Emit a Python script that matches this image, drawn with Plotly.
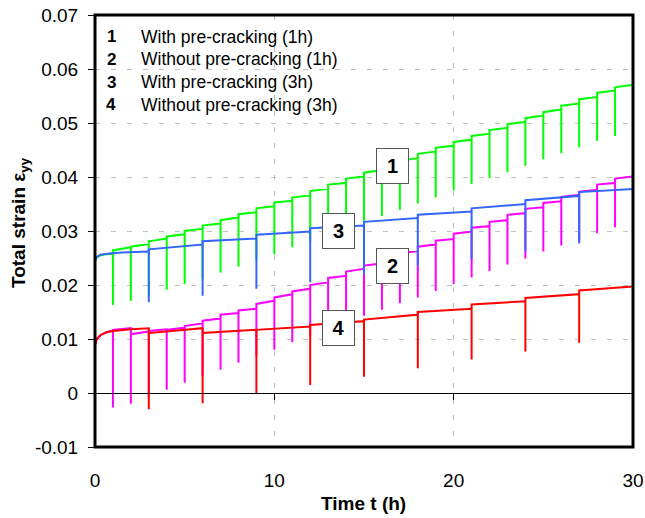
import plotly.graph_objects as go

# ---------------- data ----------------
# Series 1: With pre-cracking (1h)  -- green
S1_T0 = [0, 0, 0.1, 0.3, 0.6, 1]
S1_V0 = [0, 0.0245, 0.0251, 0.0255, 0.0257, 0.0258]
S1_CYC = list(range(1, 30))
S1_MIN = [0.0163, 0.0171, 0.0180, 0.0191, 0.0202, 0.0212, 0.0223, 0.0234, 0.0247, 0.0257,
          0.0270, 0.0282, 0.0294, 0.0306, 0.0319, 0.0328, 0.0339, 0.0351, 0.0362, 0.0375,
          0.0387, 0.0398, 0.0409, 0.0421, 0.0433, 0.0444, 0.0455, 0.0467, 0.0476]
S1_START = [0.0264, 0.0271, 0.0281, 0.0290, 0.0300, 0.0310, 0.0320, 0.0331, 0.0342, 0.0353,
            0.0362, 0.0374, 0.0386, 0.0397, 0.0408, 0.0419, 0.0430, 0.0443, 0.0454, 0.0465,
            0.0476, 0.0487, 0.0498, 0.0509, 0.0520, 0.0532, 0.0544, 0.0556, 0.0566]
S1_END = [0.0270, 0.0276, 0.0286, 0.0294, 0.0304, 0.0314, 0.0325, 0.0335, 0.0346, 0.0356,
          0.0366, 0.0378, 0.0389, 0.0401, 0.0413, 0.0424, 0.0435, 0.0447, 0.0458, 0.0469,
          0.0480, 0.0491, 0.0502, 0.0514, 0.0525, 0.0536, 0.0548, 0.0560, 0.0571]

# Series 2: Without pre-cracking (1h) -- magenta
S2_T0 = [0, 0, 0.1, 0.3, 0.6, 1]
S2_V0 = [0, 0.0089, 0.0100, 0.0107, 0.0112, 0.0116]
S2_CYC = list(range(1, 30))
S2_MIN = [-0.0027, -0.0020, -0.0008, 0.0006, 0.0019, 0.0031, 0.0043, 0.0056, 0.0068, 0.0080,
          0.0094, 0.0106, 0.0118, 0.0130, 0.0143, 0.0154, 0.0166, 0.0177, 0.0189, 0.0202,
          0.0214, 0.0226, 0.0238, 0.0249, 0.0262, 0.0273, 0.0282, 0.0296, 0.0307]
S2_START = [0.0117, 0.0109, 0.0115, 0.0117, 0.0124, 0.0134, 0.0145, 0.0153, 0.0165, 0.0177,
            0.0188, 0.0200, 0.0213, 0.0225, 0.0236, 0.0248, 0.0259, 0.0271, 0.0282, 0.0295,
            0.0306, 0.0317, 0.0330, 0.0341, 0.0352, 0.0363, 0.0373, 0.0386, 0.0397]
S2_END = [0.0120, 0.0114, 0.0118, 0.0121, 0.0129, 0.0138, 0.0148, 0.0156, 0.0171, 0.0183,
          0.0193, 0.0205, 0.0217, 0.0230, 0.0240, 0.0251, 0.0263, 0.0275, 0.0285, 0.0299,
          0.0309, 0.0320, 0.0333, 0.0344, 0.0355, 0.0367, 0.0376, 0.0389, 0.0401]

# Series 3: With pre-cracking (3h) -- blue
S3_T0 = [0, 0, 0.1, 0.3, 0.7, 1.5, 3]
S3_V0 = [0, 0.0245, 0.0252, 0.0256, 0.0258, 0.0260, 0.0262]
S3_CYC = [3, 6, 9, 12, 15, 18, 21, 24, 27]
S3_MIN = [0.0168, 0.0180, 0.0193, 0.0205, 0.0220, 0.0236, 0.0248, 0.0263, 0.0277]
S3_START = [0.0266, 0.0281, 0.0293, 0.0305, 0.0317, 0.0330, 0.0342, 0.0357, 0.0372]
S3_END = [0.0275, 0.0286, 0.0299, 0.0310, 0.0324, 0.0336, 0.0350, 0.0365, 0.0378]

# Series 4: Without pre-cracking (3h) -- red
S4_T0 = [0, 0, 0.1, 0.3, 0.6, 1, 2, 3]
S4_V0 = [0, 0.0089, 0.0100, 0.0107, 0.0112, 0.0115, 0.0118, 0.0120]
S4_CYC = [3, 6, 9, 12, 15, 18, 21, 24, 27]
S4_MIN = [-0.0030, -0.0019, -0.0002, 0.0015, 0.0030, 0.0046, 0.0062, 0.0077, 0.0093]
S4_START = [0.0111, 0.0111, 0.0117, 0.0126, 0.0136, 0.0150, 0.0164, 0.0176, 0.0190]
S4_END = [0.0120, 0.0117, 0.0123, 0.0133, 0.0145, 0.0156, 0.0170, 0.0183, 0.0197]

T_END = 30

LEGEND_NUMS = ["1", "2", "3", "4"]
LEGEND_TEXT = ["With pre-cracking (1h)", "Without pre-cracking (1h)",
               "With pre-cracking (3h)", "Without pre-cracking (3h)"]

# curve label boxes (time, strain)
LABEL_TXT = ["1", "3", "2", "4"]
LABEL_T = [16.6, 13.55, 16.6, 13.55]
LABEL_V = [0.0421, 0.0300, 0.0235, 0.0120]

Y_TICKS = [-0.01, 0, 0.01, 0.02, 0.03, 0.04, 0.05, 0.06, 0.07]
Y_TICKTEXT = ["-0.01", "0", "0.01", "0.02", "0.03", "0.04", "0.05", "0.06", "0.07"]
X_TICKS = [0, 10, 20, 30]

COLORS = ["#00FF00", "#FF00FF", "#3366FF", "#FF0000"]
FONT = "Arial, Liberation Sans, sans-serif"


def build(t0, v0, cyc, mins, starts, ends):
    xs, ys = list(t0), list(v0)
    for i, c in enumerate(cyc):
        nxt = cyc[i + 1] if i + 1 < len(cyc) else T_END
        xs += [c, c, nxt]
        ys += [mins[i], starts[i], ends[i]]
    return xs, ys


series = [
    (S1_T0, S1_V0, S1_CYC, S1_MIN, S1_START, S1_END),
    (S2_T0, S2_V0, S2_CYC, S2_MIN, S2_START, S2_END),
    (S3_T0, S3_V0, S3_CYC, S3_MIN, S3_START, S3_END),
    (S4_T0, S4_V0, S4_CYC, S4_MIN, S4_START, S4_END),
]

fig = go.Figure()
for (s, col, name) in zip(series, COLORS, LEGEND_TEXT):
    x, y = build(*s)
    fig.add_trace(go.Scatter(x=x, y=y, mode="lines", name=name,
                             line=dict(color=col, width=2), showlegend=False,
                             hoverinfo="skip"))

# dummy trace for the zero-crossing x axis
fig.add_trace(go.Scatter(x=[0], y=[0], xaxis="x2", mode="markers",
                         marker=dict(opacity=0), showlegend=False, hoverinfo="skip"))

fig.update_layout(
    width=645, height=518,
    margin=dict(l=95, r=12, t=15, b=71),
    paper_bgcolor="white", plot_bgcolor="white",
    font=dict(family=FONT, size=19, color="black"),
    xaxis=dict(range=[0, 30], tickvals=X_TICKS, ticks="", showline=False,
               showgrid=True, gridcolor="#c0c0c0", griddash="5px,11px", gridwidth=1,
               zeroline=False, ticklabelstandoff=20, automargin=False,
               tickfont=dict(size=19, color="black")),
    xaxis2=dict(range=[0, 30], overlaying="x", anchor="free", position=0.125,
                side="bottom", tickvals=X_TICKS, ticks="outside", ticklen=6,
                tickcolor="black", showticklabels=False, showline=True,
                linecolor="black", linewidth=1, showgrid=False, zeroline=False,
                automargin=False),
    yaxis=dict(range=[-0.01, 0.07], tickvals=Y_TICKS, ticktext=Y_TICKTEXT,
               ticks="outside", ticklen=6, tickcolor="black", showline=False,
               showgrid=True, gridcolor="#c0c0c0", griddash="5px,11px", gridwidth=1,
               zeroline=False, ticklabelstandoff=6, automargin=False,
               tickfont=dict(size=19, color="black")),
)

shapes = [
    # white background behind the legend text
    dict(type="rect", xref="paper", yref="paper", x0=0.003, x1=0.503, y0=0.743, y1=0.997,
         fillcolor="white", line=dict(width=0), layer="between"),
    # plot frame
    dict(type="rect", xref="paper", yref="paper", x0=0, x1=1, y0=0, y1=1,
         line=dict(color="black", width=3), layer="above"),
]
fig.update_layout(shapes=shapes)

ann = []
row_y = [0.9491, 0.8970, 0.8449, 0.7928]
for num, txt, yy in zip(LEGEND_NUMS, LEGEND_TEXT, row_y):
    ann.append(dict(xref="paper", yref="paper", x=0.0306, y=yy, text="<b>%s</b>" % num,
                    showarrow=False, xanchor="center", yanchor="middle",
                    font=dict(size=17, color="black")))
    ann.append(dict(xref="paper", yref="paper", x=0.0817, y=yy, text=txt,
                    showarrow=False, xanchor="left", yanchor="middle",
                    font=dict(size=17.5, color="black")))

for txt, t, v in zip(LABEL_TXT, LABEL_T, LABEL_V):
    ann.append(dict(x=t, y=v, xref="x", yref="y", text="<b>%s</b>" % txt,
                    showarrow=False, xanchor="center", yanchor="middle",
                    width=31, height=34, borderpad=0, borderwidth=1,
                    bordercolor="#555555", bgcolor="white",
                    font=dict(size=20, color="black")))

ann.append(dict(xref="paper", yref="paper", x=-0.139, y=0.519,
                text="<b>Total strain ε<sub>yy</sub></b>", textangle=-90,
                showarrow=False, xanchor="center", yanchor="middle",
                font=dict(size=19, color="black")))
ann.append(dict(xref="paper", yref="paper", x=0.4995, y=-0.131,
                text="<b>Time t (h)</b>", showarrow=False,
                xanchor="center", yanchor="middle",
                font=dict(size=19, color="black")))
fig.update_layout(annotations=ann)

fig.write_html("out.html")
